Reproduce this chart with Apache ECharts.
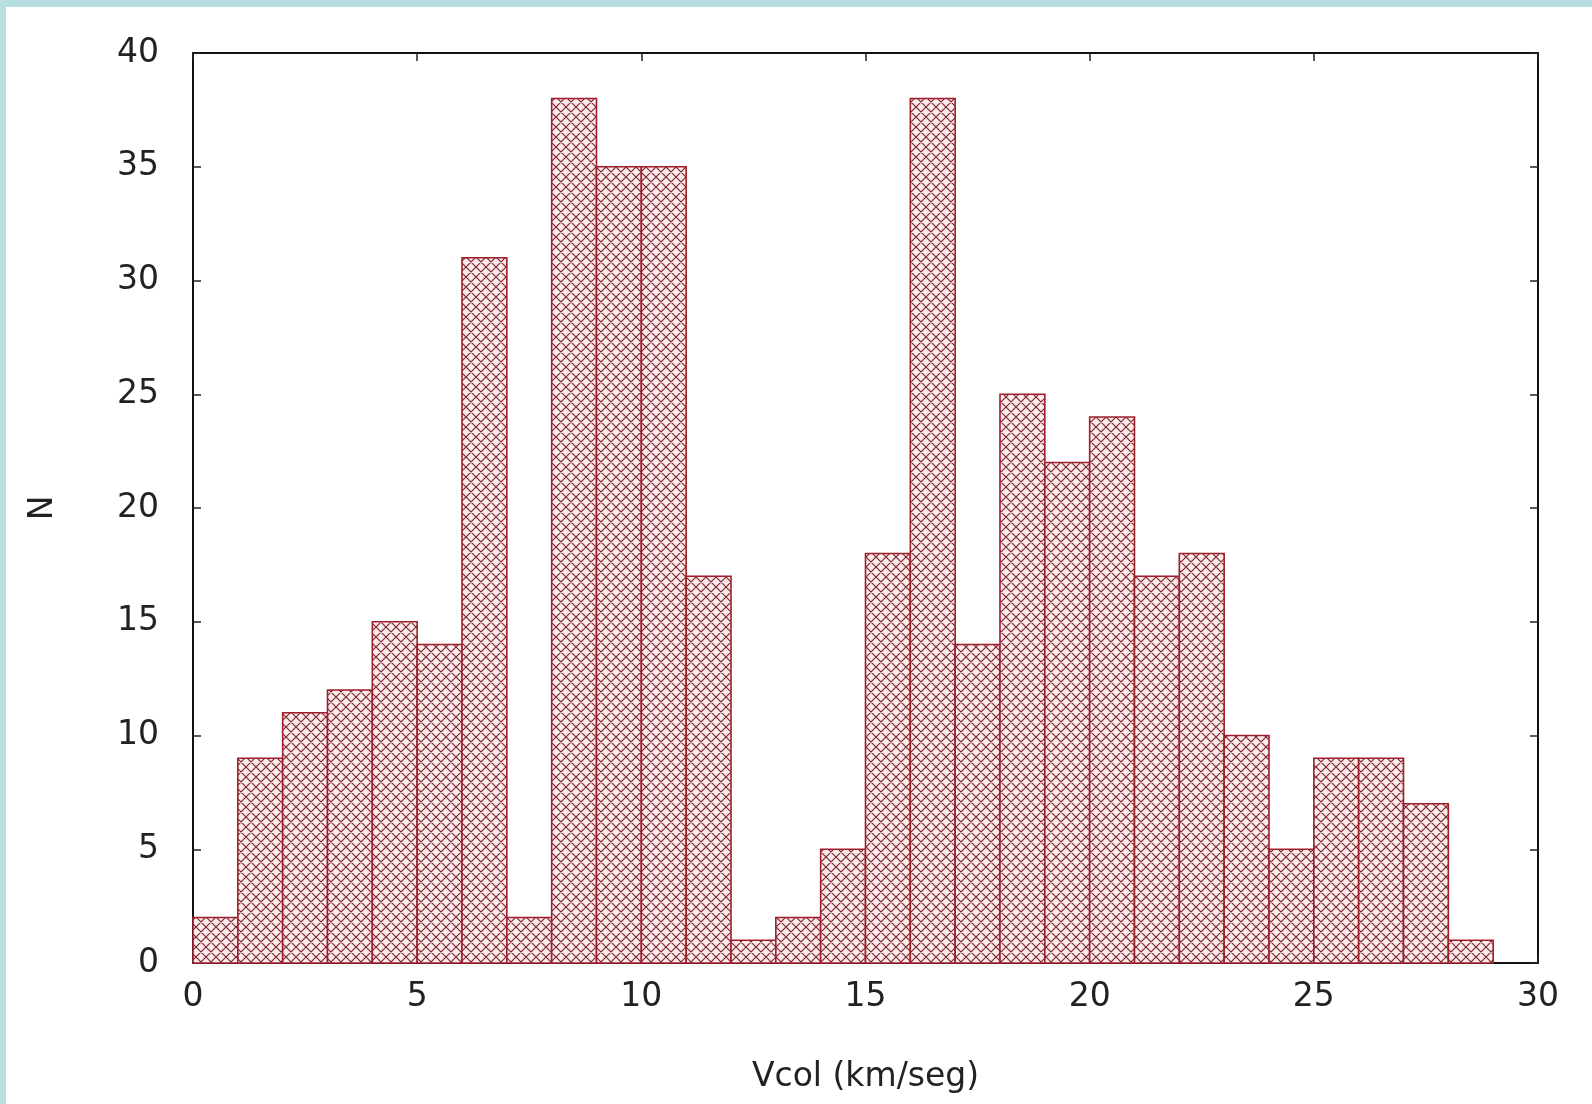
<!DOCTYPE html>
<html>
<head>
<meta charset="utf-8">
<script src="https://cdn.jsdelivr.net/npm/echarts@6/dist/echarts.min.js"></script>
<style>
  html, body { margin: 0; padding: 0; background: #b7dfe2; }
  #main { position: absolute; left: 6px; top: 7px; width: 1586px; height: 1097px; background: #ffffff; }
</style>
</head>
<body>
<div id="main"></div>
<script>
// histogram bins (width 1 km/seg) and counts
var binStarts = [0, 1, 2, 3, 4, 5, 6, 7, 8, 9, 10, 11, 12, 13, 14, 15, 16, 17, 18, 19, 20, 21, 22, 23, 24, 25, 26, 27, 28];
var counts = [2, 9, 11, 12, 15, 14, 31, 2, 38, 35, 35, 17, 1, 2, 5, 18, 38, 14, 25, 22, 24, 17, 18, 10, 5, 9, 9, 7, 1];
var binWidth = 1;

// cross hatch tile
function hatch() {
  var s = 10;
  var c = document.createElement('canvas');
  c.width = s; c.height = s;
  var ctx = c.getContext('2d');
  ctx.fillStyle = '#fcecec';
  ctx.fillRect(0, 0, s, s);
  ctx.strokeStyle = '#7d2430';
  ctx.lineWidth = 1.2;
  ctx.beginPath();
  for (var k = -1; k <= 1; k++) {
    ctx.moveTo(k * s, 0); ctx.lineTo(k * s + s, s);
    ctx.moveTo(k * s + s, 0); ctx.lineTo(k * s, s);
  }
  ctx.stroke();
  return c;
}
var pattern = { image: hatch(), repeat: 'repeat' };

var data = counts.map(function (c, i) {
  return [binStarts[i], binStarts[i] + binWidth, c];
});

var font = 'DejaVu Sans';
var lineStyle = { color: '#111', width: 2 };
var tickStyle = { show: true, inside: true, length: 8, lineStyle: { color: '#222', width: 1.5 } };

var myChart = echarts.init(document.getElementById('main'));
myChart.setOption({
  animation: false,
  backgroundColor: '#ffffff',
  grid: {
    left: 187,
    right: 54,
    top: 46,
    bottom: 141
  },
  xAxis: [
    {
      type: 'value',
      min: 0,
      max: 30,
      interval: 5,
      name: 'Vcol (km/seg)',
      nameLocation: 'middle',
      nameGap: 98,
      nameTextStyle: { fontFamily: font, fontSize: 33, color: '#222' },
      axisLine: { show: true, onZero: false, lineStyle: lineStyle },
      axisTick: tickStyle,
      axisLabel: { fontFamily: font, fontSize: 33, color: '#222', margin: 18 },
      splitLine: { show: false }
    },
    {
      type: 'value',
      position: 'top',
      min: 0,
      max: 30,
      interval: 5,
      axisLine: { show: true, onZero: false, lineStyle: lineStyle },
      axisTick: tickStyle,
      axisLabel: { show: false },
      splitLine: { show: false }
    }
  ],
  yAxis: [
    {
      type: 'value',
      min: 0,
      max: 40,
      interval: 5,
      name: 'N',
      nameLocation: 'middle',
      nameRotate: 90,
      nameGap: 133,
      nameTextStyle: { fontFamily: font, fontSize: 33, color: '#222' },
      axisLine: { show: true, onZero: false, lineStyle: lineStyle },
      axisTick: tickStyle,
      axisLabel: { fontFamily: font, fontSize: 33, color: '#222', margin: 34 },
      splitLine: { show: false }
    },
    {
      type: 'value',
      position: 'right',
      min: 0,
      max: 40,
      interval: 5,
      axisLine: { show: true, onZero: false, lineStyle: lineStyle },
      axisTick: tickStyle,
      axisLabel: { show: false },
      splitLine: { show: false }
    }
  ],
  series: [
    {
      type: 'custom',
      xAxisIndex: 0,
      yAxisIndex: 0,
      data: data,
      encode: { x: [0, 1], y: 2 },
      renderItem: function (params, api) {
        var top = api.coord([api.value(0), api.value(2)]);
        var base = api.coord([api.value(1), 0]);
        return {
          type: 'rect',
          shape: { x: top[0], y: top[1], width: base[0] - top[0], height: base[1] - top[1] },
          style: { fill: pattern, stroke: '#9e1f2b', lineWidth: 1.6 }
        };
      }
    }
  ]
});
</script>
</body>
</html>
